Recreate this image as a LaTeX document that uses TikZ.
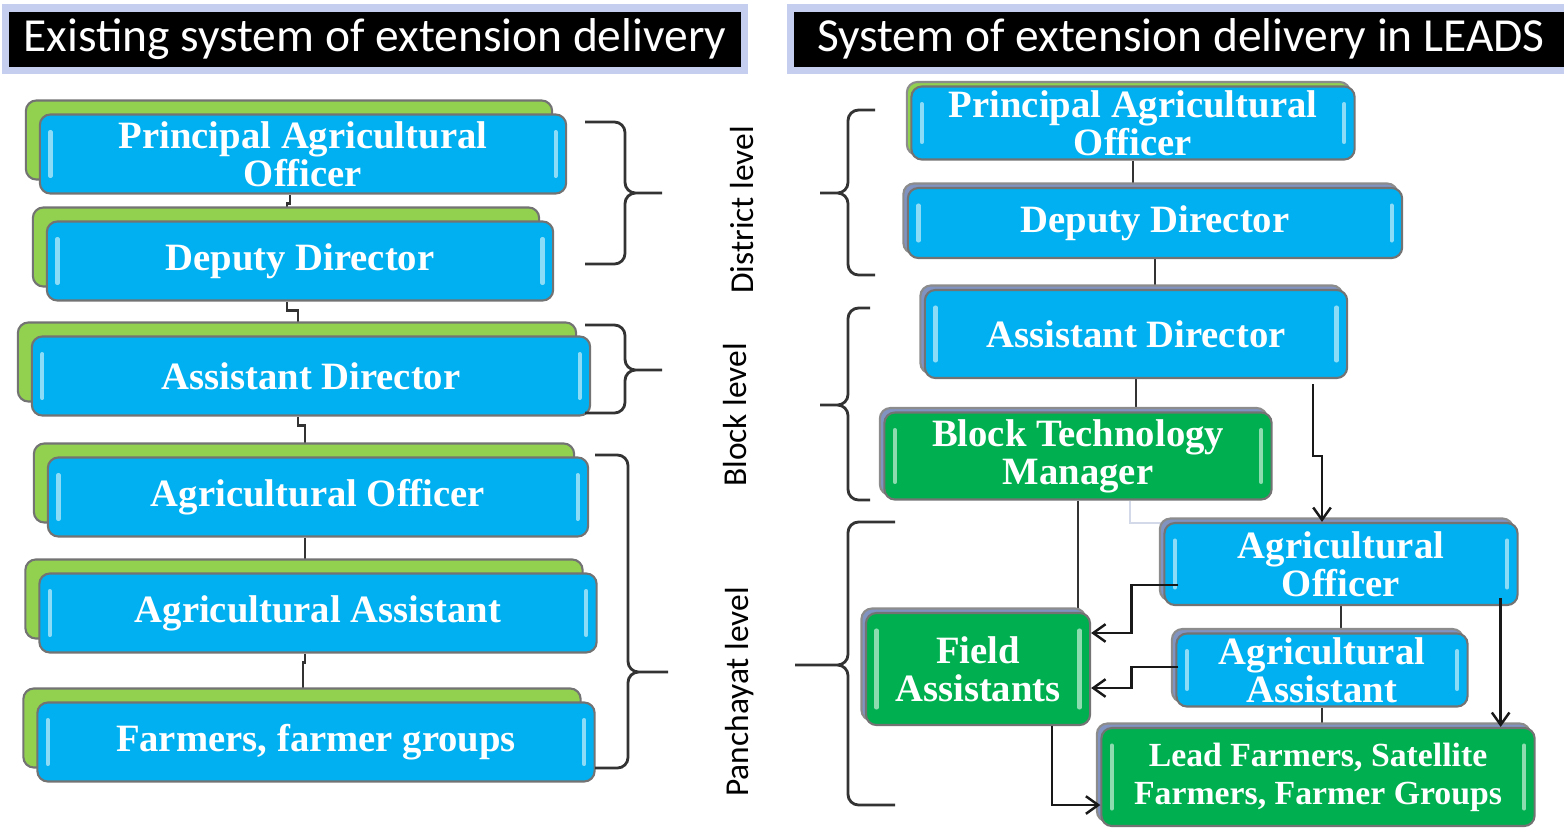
\documentclass[tikz,border=0pt]{standalone}
\usepackage{fontspec}
\setmainfont{Liberation Serif}
\newfontfamily\headfont{Carlito}
\usepackage{tikz}
\usetikzlibrary{shadows,backgrounds,arrows.meta}

\definecolor{unitblue}{HTML}{00B0F0}
\definecolor{unitgreen}{HTML}{00B050}
\definecolor{leafgreen}{HTML}{92D050}
\definecolor{slate}{HTML}{8193C0}
\definecolor{halo}{HTML}{C5CEEE}

\tikzset{
  unit/.style={rectangle, rounded corners=3pt, draw=black!55, line width=0.6pt,
    fill=#1, text=white, align=center, inner sep=1pt,
    font=\fontsize{11}{10.8}\selectfont\bfseries,
    path picture={
      \draw[#1!45!white, line width=1.2pt, line cap=round]
        ([shift={(3pt,-5pt)}]path picture bounding box.north west) -- ([shift={(3pt,5pt)}]path picture bounding box.south west)
        ([shift={(-3pt,-5pt)}]path picture bounding box.north east) -- ([shift={(-3pt,5pt)}]path picture bounding box.south east);
    }},
  unit/.default=unitblue,
  stack/.style={general shadow={fill=leafgreen, draw=black!55, line width=0.6pt,
    shadow xshift=-0.14cm, shadow yshift=0.14cm}},
  layer/.style={general shadow={fill=#1, draw=black!45, line width=0.6pt,
    shadow xshift=-0.045cm, shadow yshift=0.045cm}},
  layer/.default=slate,
  title/.style={fill=black, draw=halo, line width=2pt, text=white, inner sep=0pt,
    font=\headfont\fontsize{13.5}{14}\selectfont},
  lvl/.style={rotate=90, inner sep=0pt, font=\headfont\fontsize{9.5}{10}\selectfont},
  brace/.style={rounded corners=3pt, line width=0.8pt, black!80},
  link/.style={line width=0.8pt, black!80},
  arr/.style={-{Straight Barb[length=3.5pt,width=5pt]}, line width=0.7pt, black!90},
}

\begin{document}
\begin{tikzpicture}[x=0.01cm, y=-0.01cm]
\useasboundingbox (0,0) rectangle (1564,827);

% headings
\node[title, minimum width=7.38cm, minimum height=0.62cm] (T1) at (375,39) {Existing system of extension delivery};
\node[title, minimum width=7.8cm, minimum height=0.62cm] (T2) at (1181,39) {System of extension delivery in LEADS};

% existing system
\foreach \n/\cx/\cy/\w/\t in {
  L1/303/154/5.26/{Principal Agricultural\\Officer},
  L2/300/261/5.06/{Deputy Director},
  L3/311/376/5.58/{Assistant Director},
  L4/318/497/5.40/{Agricultural Officer},
  L5/318/613/5.57/{Agricultural Assistant},
  L6/316/742/5.57/{Farmers, farmer groups}}
  \node[unit, stack, minimum width=\w cm, minimum height=0.79cm] (\n) at (\cx,\cy) {\t};

% LEADS
\node[unit, layer=leafgreen, minimum width=4.43cm, minimum height=0.73cm] (R1) at (1133,123) {Principal Agricultural\\Officer};
\node[unit, layer, minimum width=4.94cm, minimum height=0.70cm] (R2) at (1155,223) {Deputy Director};
\node[unit, layer, minimum width=4.22cm, minimum height=0.88cm] (R3) at (1136,334) {Assistant Director};
\node[unit=unitgreen, layer, minimum width=3.87cm, minimum height=0.87cm] (R4) at (1078,456) {Block Technology\\Manager};
\node[unit, layer, minimum width=3.53cm, minimum height=0.82cm] (R5) at (1341,564) {Agricultural\\Officer};
\node[unit=unitgreen, layer, minimum width=2.24cm, minimum height=1.12cm] (R6) at (978,669) {Field\\Assistants};
\node[unit, layer, minimum width=2.91cm, minimum height=0.73cm] (R7) at (1322,670) {Agricultural\\Assistant};
\node[unit=unitgreen, layer, minimum width=4.33cm, minimum height=0.98cm,
  font=\fontsize{9.6}{10.8}\selectfont\bfseries] (R8) at (1318,777) {Lead Farmers, Satellite\\Farmers, Farmer Groups};

% levels
\node[lvl] (D) at (742,210) {District level};
\node[lvl] (B) at (735,415) {Block level};
\node[lvl] (P) at (740,692) {Panchayat level};

% braces
\foreach \ya/\ym/\yb/\xa/\xb/\xt in {122/193/264/585/625/662, 325/370/413/585/625/662, 455/672/768/595/628/668,
  110/193/275/875/848/820, 308/405/500/870/848/820, 522/665/805/895/848/795}
  \draw[brace] (\xa,\ya) -- (\xb,\ya) -- (\xb,\ym) -- (\xt,\ym) (\xt,\ym) -- (\xb,\ym) -- (\xb,\yb) -- (\xa,\yb);

% plain links behind the boxes
\begin{scope}[on background layer]
\foreach \a/\b in {L1/L2, L2/L3, L3/L4, L4/L5, L5/L6}
  \draw[link] ([xshift=-0.13cm]\a.south) -- ++(0,9) -| ([xshift=-0.13cm]\b.north);
\draw[link] (R1.south) -- (R1.south |- R2.north);
\draw[link] (R2.south) -- (R2.south |- R3.north);
\draw[link] (R3.south) -- (R3.south |- R4.north);
\draw[link] (R4.south) -- (R4.south |- R6.north);
\draw[link] (R5.south) -- (R5.south |- R7.north);
\draw[link] (R7.south) -- (R7.south |- R8.north);
\draw[line width=0.6pt, slate!35] ([xshift=0.52cm]R4.south) |- ([yshift=-0.01cm]R5.north west);
\end{scope}

% arrows
\coordinate (r3a) at ([xshift=-0.35cm,yshift=-0.05cm]R3.south east);
\coordinate (r5a) at ([xshift=-0.18cm,yshift=-0.34cm]R5.east);
\draw[arr] (r3a) -- ++(0,72) -| ([xshift=-0.19cm]R5.north);
\draw[arr] ([xshift=0.15cm,yshift=-0.21cm]R5.west) -- ++(-47,0) |- ([yshift=0.36cm]R6.east);
\draw[arr] ([xshift=0.03cm,yshift=0.03cm]R7.west) -- ++(-47,0) |- ([yshift=-0.19cm]R6.east);
\draw[arr] (r5a) -- (r5a |- R8.north);
\draw[arr] ([xshift=0.74cm]R6.south) |- ([yshift=-0.28cm]R8.west);

\end{tikzpicture}
\end{document}
